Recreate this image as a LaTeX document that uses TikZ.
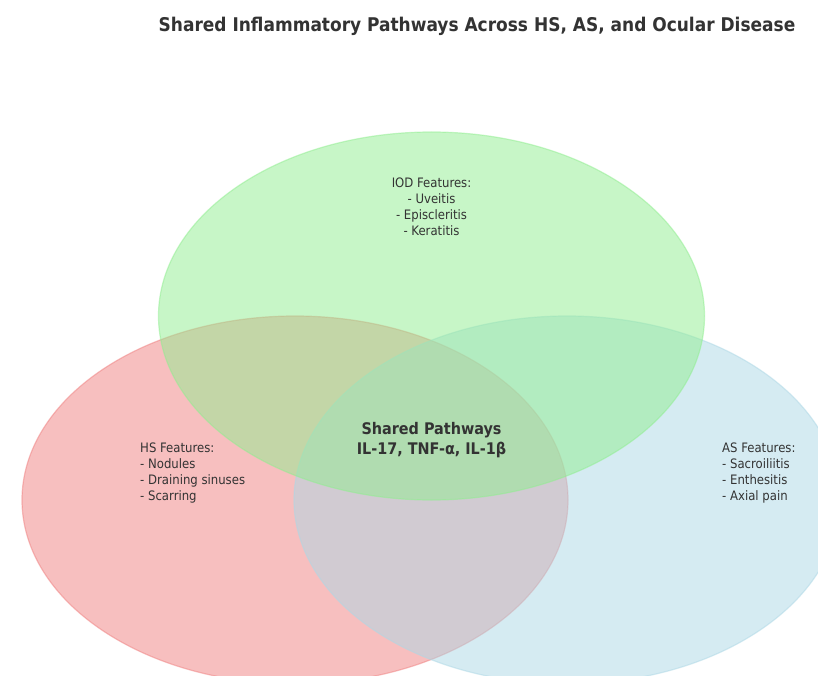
\documentclass[tikz,border=0pt]{standalone}
\usepackage{fontspec}
\setmainfont{DejaVu Sans}
\newfontfamily\condfont{DejaVu Sans Condensed}
\definecolor{hsred}{RGB}{240,128,128}
\definecolor{asblue}{RGB}{173,216,230}
\definecolor{iodgreen}{RGB}{144,238,144}
\definecolor{txt}{RGB}{51,51,51}
\tikzset{
  circ/.style={fill=#1, fill opacity=0.5, draw=#1, draw opacity=0.5, line width=1.2pt},
  feat/.style={text=txt, font=\condfont\fontsize{13}{15.9}\selectfont, inner sep=0pt},
  shared/.style={text=txt, font=\condfont\bfseries\fontsize{16}{19.5}\selectfont, align=center, inner sep=0pt},
  ttl/.style={text=txt, font=\condfont\bfseries\fontsize{18.9}{22}\selectfont, inner sep=0pt}
}
\begin{document}
\begin{tikzpicture}[x=1pt,y=-1pt]
\useasboundingbox (0,0) rectangle (818,676);
\fill[white] (0,0) rectangle (818,676);
\clip (0,0) rectangle (818,676);
\path[circ=hsred] (295,500) ellipse [x radius=273pt, y radius=184pt];
\path[circ=asblue] (567,500) ellipse [x radius=273pt, y radius=184pt];
\path[circ=iodgreen] (431.5,316) ellipse [x radius=273pt, y radius=184pt];
\node[ttl] (title) at (477,26.5) {Shared Inflammatory Pathways Across HS, AS, and Ocular Disease};
\node[feat, align=center] (iod) at (431.5,206.5) {IOD Features:\\- Uveitis\\- Episcleritis\\- Keratitis};
\node[feat, align=left, anchor=west] (hs) at (140,473) {HS Features:\\- Nodules\\- Draining sinuses\\- Scarring};
\node[feat, align=left, anchor=west] (as) at (722,473) {AS Features:\\- Sacroiliitis\\- Enthesitis\\- Axial pain};
\node[shared] (sh) at (431.5,440) {Shared Pathways\\IL-17, TNF-α, IL-1β};
\end{tikzpicture}
\end{document}
